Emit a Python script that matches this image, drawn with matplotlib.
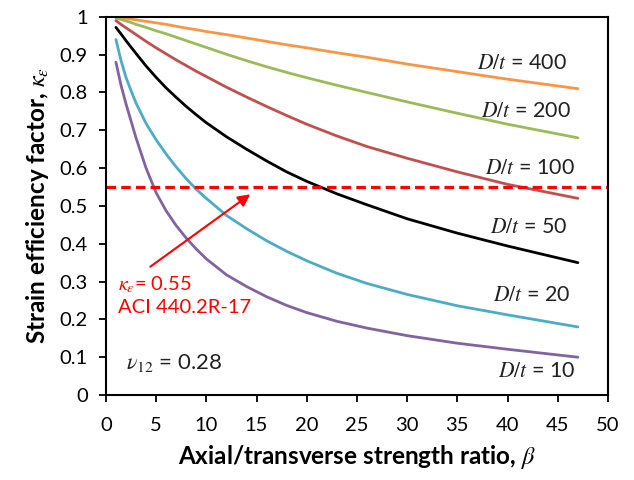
import matplotlib.pyplot as plt

plt.rcParams['font.family'] = ['Lato', 'DejaVu Sans']
plt.rcParams['mathtext.fontset'] = 'stix'

# beta values (axial/transverse strength ratio)
beta = [1, 1.5, 2, 2.5, 3, 4, 5, 6, 7, 8, 9, 10, 12, 14, 16, 18, 20, 23, 26, 30, 35, 40, 47]

k_400 = [1.0, 0.998, 0.996, 0.994, 0.992, 0.988, 0.984, 0.98, 0.975, 0.97, 0.966, 0.961,
         0.953, 0.944, 0.935, 0.926, 0.918, 0.905, 0.893, 0.875, 0.855, 0.835, 0.81]
k_200 = [0.997, 0.993, 0.989, 0.985, 0.98, 0.972, 0.963, 0.955, 0.946, 0.937, 0.928, 0.919,
         0.901, 0.884, 0.868, 0.853, 0.839, 0.819, 0.8, 0.775, 0.745, 0.716, 0.68]
k_100 = [0.99, 0.98, 0.971, 0.962, 0.953, 0.935, 0.918, 0.902, 0.886, 0.871, 0.856, 0.842,
         0.814, 0.788, 0.763, 0.739, 0.716, 0.685, 0.657, 0.626, 0.59, 0.557, 0.52]
k_50 = [0.972, 0.955, 0.937, 0.92, 0.903, 0.87, 0.84, 0.812, 0.787, 0.763, 0.741, 0.72,
        0.683, 0.65, 0.619, 0.59, 0.565, 0.532, 0.503, 0.466, 0.428, 0.394, 0.35]
k_20 = [0.94, 0.885, 0.84, 0.805, 0.772, 0.718, 0.675, 0.637, 0.603, 0.572, 0.544, 0.52,
        0.475, 0.44, 0.408, 0.38, 0.355, 0.322, 0.295, 0.266, 0.236, 0.212, 0.18]
k_10 = [0.88, 0.82, 0.77, 0.725, 0.68, 0.6, 0.535, 0.487, 0.448, 0.415, 0.386, 0.36,
        0.318, 0.287, 0.26, 0.237, 0.218, 0.195, 0.177, 0.157, 0.137, 0.121, 0.10]

series = [k_400, k_200, k_100, k_50, k_20, k_10]
colors = ["#F79646", "#9BBB59", "#C0504D", "black", "#4BACC6", "#8064A2"]
labels = ["400", "200", "100", "50", "20", "10"]
label_x = [41.4, 41.8, 42.2, 42.1, 42.4, 42.9]
label_y = [0.878, 0.751, 0.60, 0.444, 0.265, 0.064]

fig = plt.figure(figsize=(6.34, 4.8), dpi=100)
ax = fig.add_axes([0.167, 0.177, 0.792, 0.788])

for k, c in zip(series, colors):
    ax.plot(beta, k, color=c, linewidth=2.0, solid_capstyle="round")

for lab, lx, ly in zip(labels, label_x, label_y):
    ax.text(lx, ly, r"$D/t$ = " + lab, fontsize=15.5, ha="center", va="center", color="#222222")

# ACI limit line
ax.axhline(0.55, color="red", linestyle=(0, (3, 1.6)), linewidth=2.3)
ax.annotate("", xy=(14.6, 0.535), xytext=(4.2, 0.335),
            arrowprops=dict(arrowstyle="-|>", color="red", lw=1.5, mutation_scale=18))
ax.text(1.2, 0.293, r"$\kappa_\varepsilon$= 0.55", color="red", fontsize=14.5, va="center")
ax.text(1.2, 0.232, "ACI 440.2R-17", color="red", fontsize=14.5, va="center")
ax.text(2.0, 0.085, r"$\nu_{12}$ = 0.28", color="#222222", fontsize=16, va="center")

ax.set_xlim(0, 50)
ax.set_ylim(0, 1)
ax.set_xticks(range(0, 51, 5))
ax.set_yticks([i / 10 for i in range(11)])
ax.set_yticklabels(["0", "0.1", "0.2", "0.3", "0.4", "0.5", "0.6", "0.7", "0.8", "0.9", "1"])
ax.tick_params(labelsize=14.5, length=5, width=1.3, direction="out", colors="black")
ax.tick_params(axis="x", pad=11)
ax.tick_params(axis="y", pad=8)
for s in ax.spines.values():
    s.set_linewidth(1.5)

ax.set_xlabel(r"Axial/transverse strength ratio, $\beta$", fontsize=17.5, fontweight="bold", labelpad=6)
ax.set_ylabel(r"Strain efficiency factor, $\kappa_\varepsilon$", fontsize=17.5, fontweight="bold", labelpad=6)

plt.savefig("out.png", dpi=100)
